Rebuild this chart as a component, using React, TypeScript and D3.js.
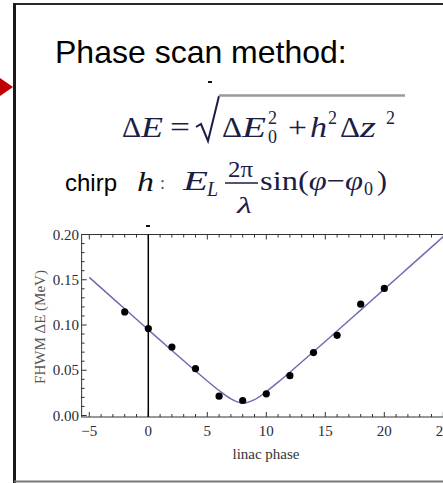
import React from "react";
import * as d3 from "d3";

const phase = [-2, 0, 2, 4, 6, 8, 10, 12, 14, 16, 18, 20];
const fwhm = [0.1145, 0.096, 0.0757, 0.0517, 0.0214, 0.0166, 0.024, 0.044, 0.0695, 0.0886, 0.123, 0.1404];

const fitX = [-5, -4, -2, 0, 2, 4, 5, 6, 7, 8, 9, 10, 11, 12, 14, 16, 18, 20, 22, 24, 25];
const fitY = [0.1526, 0.141, 0.1179, 0.0948, 0.0718, 0.0492, 0.0381, 0.0276, 0.0184, 0.0136, 0.0175, 0.0264, 0.0368, 0.0478, 0.0705, 0.0934, 0.1165, 0.1396, 0.1628, 0.186, 0.1977];

const xMajor = [-5, 0, 5, 10, 15, 20, 25];
const xMajorLabels = ["\u22125", "0", "5", "10", "15", "20", "25"];
const yMajor = [0, 0.05, 0.1, 0.15, 0.2];
const yMajorLabels = ["0.00", "0.05", "0.10", "0.15", "0.20"];

const NAVY = "#1b1d45";
const SERIF = "'Liberation Serif', 'DejaVu Serif', serif";
const SANS = "'Liberation Sans', Arial, sans-serif";

export default function App() {
  const x = d3.scaleLinear().domain([-5, 25]).range([89.3, 443.3]);
  const y = d3.scaleLinear().domain([0, 0.2]).range([415.5, 234.5]);
  const fL = x(-5.65), fR = x(25.65), fT = 234.5, fB = 417;

  const line = d3
    .line<number>()
    .x((_, i) => x(fitX[i]))
    .y((d) => y(d))
    .curve(d3.curveCatmullRom);

  const xMinor = d3.range(-5, 26, 1).filter((v) => v % 5 !== 0);
  const yMinor = d3.range(0, 0.2001, 0.01).filter((v) => Math.abs(v / 0.05 - Math.round(v / 0.05)) > 1e-6);

  return (
    <svg width={443} height={483} style={{ position: "absolute", left: 0, top: 0, background: "#fff" }}>
      <rect x={0} y={0} width={443} height={483} fill="#fff" />
      {/* outer frame */}
      <line x1={14} y1={4} x2={443} y2={4} stroke="#2a2a2a" strokeWidth={2} />
      <line x1={14.5} y1={3} x2={14.5} y2={483} stroke="#1a1a1a" strokeWidth={3} />
      <line x1={14} y1={481.5} x2={443} y2={481.5} stroke="#777" strokeWidth={2} />
      <polygon points="0,78 13,87 0,96" fill="#c00000" />

      {/* title */}
      <text x={55} y={63} fontFamily={SANS} fontSize={32} fill="#000">Phase scan method:</text>

      {/* formula 1 */}
      <g fill={NAVY} fontFamily={SERIF}>
        <text x={122} y={137} fontSize={30} textLength={19} lengthAdjust="spacingAndGlyphs">Δ</text>
        <text x={141} y={137} fontSize={30} fontStyle="italic" textLength={22} lengthAdjust="spacingAndGlyphs">E</text>
        <text x={170} y={137} fontSize={30} textLength={20} lengthAdjust="spacingAndGlyphs">=</text>
        <text x={222} y={137} fontSize={30} textLength={20} lengthAdjust="spacingAndGlyphs">Δ</text>
        <text x={242} y={137} fontSize={30} fontStyle="italic" textLength={24} lengthAdjust="spacingAndGlyphs">E</text>
        <text x={268} y={124} fontSize={18}>2</text>
        <text x={268} y={143} fontSize={18}>0</text>
        <text x={288} y={137} fontSize={30} textLength={19} lengthAdjust="spacingAndGlyphs">+</text>
        <text x={310} y={137} fontSize={30} fontStyle="italic" textLength={17} lengthAdjust="spacingAndGlyphs">h</text>
        <text x={328} y={124} fontSize={18}>2</text>
        <text x={340} y={137} fontSize={30} textLength={20} lengthAdjust="spacingAndGlyphs">Δ</text>
        <text x={360} y={137} fontSize={30} fontStyle="italic" textLength={16} lengthAdjust="spacingAndGlyphs">z</text>
        <text x={386} y={124} fontSize={18}>2</text>
      </g>
      <path d="M196,127 L201,124 L208,141 L219,96" fill="none" stroke={NAVY} strokeWidth={2} />
      <line x1={219} y1={95.5} x2={405} y2={95.5} stroke="#9a9a9a" strokeWidth={2.5} />
      <line x1={208} y1={82} x2={212} y2={82} stroke="#111" strokeWidth={2} />

      {/* formula 2 */}
      <text x={65} y={191} fontFamily={SANS} fontSize={24} fill="#000">chirp</text>
      <g fontFamily={SERIF}>
        <text x={137} y={191} fontSize={28} fontStyle="italic" fill="#111" textLength={17} lengthAdjust="spacingAndGlyphs">h</text>
        <text x={160} y={189} fontSize={18} fill="#555">:</text>
        <g fill={NAVY}>
          <text x={183} y={190} fontSize={28} fontStyle="italic" textLength={25} lengthAdjust="spacingAndGlyphs">E</text>
          <text x={207} y={196} fontSize={20} fontStyle="italic">L</text>
          <text x={228} y={177} fontSize={24} textLength={25} lengthAdjust="spacingAndGlyphs">2π</text>
          <text x={237} y={213} fontSize={24} fontStyle="italic" textLength={15} lengthAdjust="spacingAndGlyphs">λ</text>
          <text x={260} y={190} fontSize={28} textLength={103} lengthAdjust="spacingAndGlyphs">
            sin(<tspan fontStyle="italic">φ</tspan>−<tspan fontStyle="italic">φ</tspan>
          </text>
          <text x={364} y={195} fontSize={18}>0</text>
          <text x={377} y={190} fontSize={28} textLength={10} lengthAdjust="spacingAndGlyphs">)</text>
        </g>
        <line x1={225} y1={183} x2={258} y2={183} stroke={NAVY} strokeWidth={1.5} />
      </g>
      <line x1={146} y1={226} x2={150} y2={226} stroke="#111" strokeWidth={2} />

      {/* plot frame */}
      <rect x={fL} y={fT} width={fR - fL} height={fB - fT} fill="none" stroke="#333" strokeWidth={1} />
      {xMajor.map((v) => (
        <g key={"xm" + v}>
          <line x1={x(v)} x2={x(v)} y1={fB} y2={fB - 5} stroke="#333" />
          <line x1={x(v)} x2={x(v)} y1={fT} y2={fT + 5} stroke="#333" />
        </g>
      ))}
      {xMinor.map((v) => (
        <g key={"xn" + v}>
          <line x1={x(v)} x2={x(v)} y1={fB} y2={fB - 3} stroke="#333" />
          <line x1={x(v)} x2={x(v)} y1={fT} y2={fT + 3} stroke="#333" />
        </g>
      ))}
      {yMajor.map((v) => (
        <line key={"ym" + v} x1={fL} x2={fL + 5} y1={y(v)} y2={y(v)} stroke="#333" />
      ))}
      {yMinor.map((v) => (
        <line key={"yn" + v} x1={fL} x2={fL + 3} y1={y(v)} y2={y(v)} stroke="#333" />
      ))}
      <g fontFamily={SERIF} fontSize={15} fill="#2a2a3a">
        {xMajor.map((v, i) => (
          <text key={"xl" + v} x={x(v)} y={436} textAnchor="middle">{xMajorLabels[i]}</text>
        ))}
        {yMajor.map((v, i) => (
          <text key={"yl" + v} x={79} y={y(v) + 5} textAnchor="end">{yMajorLabels[i]}</text>
        ))}
      </g>
      <line x1={x(0)} x2={x(0)} y1={fT} y2={fB} stroke="#000" strokeWidth={1.5} />

      <path d={line(fitY) || ""} fill="none" stroke="#6d6db5" strokeWidth={1.5} />
      {phase.map((p, i) => (
        <circle key={"pt" + i} cx={x(p)} cy={y(fwhm[i])} r={3.6} fill="#000" />
      ))}

      <text x={266} y={459} textAnchor="middle" fontFamily={SERIF} fontSize={15} fill="#333">linac phase</text>
      <text transform="translate(45,327) rotate(-90)" textAnchor="middle" fontFamily={SERIF} fontSize={15} fill="#555">FHWM ΔE (MeV)</text>
    </svg>
  );
}
